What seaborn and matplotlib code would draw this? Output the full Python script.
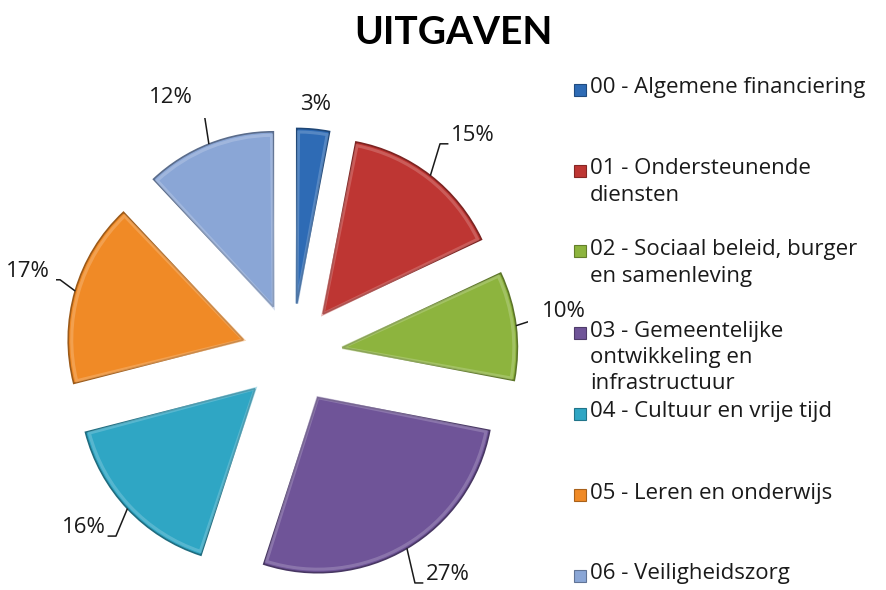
import numpy as np
import matplotlib
matplotlib.use("Agg")
import matplotlib.pyplot as plt
import seaborn as sns
from matplotlib.patches import Rectangle, Wedge
from matplotlib.colors import to_rgb

categories = [
    "00 - Algemene financiering",
    "01 - Ondersteunende\ndiensten",
    "02 - Sociaal beleid, burger\nen samenleving",
    "03 - Gemeentelijke\nontwikkeling en\ninfrastructuur",
    "04 - Cultuur en vrije tijd",
    "05 - Leren en onderwijs",
    "06 - Veiligheidszorg",
]
shares = [3, 15, 10, 27, 16, 17, 12]
colors = ["#2E6BB5", "#BE3633", "#8DB43E", "#6F5498", "#2FA6C4", "#F08A26", "#8AA6D6"]
title = "UITGAVEN"


def shade(c, f):
    r, g, b = to_rgb(c)
    return (r * f, g * f, b * f)


def tint(c, f):
    r, g, b = to_rgb(c)
    return (r + (1 - r) * f, g + (1 - g) * f, b + (1 - b) * f)


sns.set_theme(style="white")
plt.rcParams["font.family"] = ["Open Sans", "DejaVu Sans"]

W, H = 886, 590
fig = plt.figure(figsize=(W / 100, H / 100), dpi=100)

# pie centre and scale in pixels
cx, cy, scale = 292, 354, 175
lim = 1.35
ax = fig.add_axes([(cx - lim * scale) / W, (H - cy - lim * scale) / H,
                   2 * lim * scale / W, 2 * lim * scale / H])

explode = 0.29
wedges, _ = ax.pie(shares, colors=colors, startangle=90, counterclock=False,
                   explode=[explode] * len(shares), radius=1,
                   wedgeprops=dict(linewidth=1.2))
for w, c in zip(wedges, colors):
    w.set_edgecolor(shade(c, 0.65))
    # soft bevel rim just inside the edge
    ax.add_patch(Wedge(w.center, w.r - 0.02, w.theta1 + 0.6, w.theta2 - 0.6,
                       facecolor="none", edgecolor=tint(c, 0.35), lw=2.2, alpha=0.55))

ax.set_xlim(-lim, lim)
ax.set_ylim(-lim, lim)
ax.set_aspect("equal")
ax.axis("off")

# percentage labels with elbow leaders
rx, ry, gap = 1.38, 1.52, 0.06
for w, pct in zip(wedges, shares):
    deg = (w.theta1 + w.theta2) / 2
    c, s = np.cos(np.deg2rad(deg)), np.sin(np.deg2rad(deg))
    tip = ((1 + explode) * c, (1 + explode) * s)
    if pct < 5:
        ax.text(1.43 * c, 1.43 * s, f"{pct}%", ha="center", va="center",
                fontsize=16, color="#1a1a1a")
        continue
    ex, ey = rx * c, ry * s
    side = 1 if c > 0 else -1
    ax.plot([tip[0], ex, ex + side * gap * 0.8], [tip[1], ey, ey],
            color="#1a1a1a", lw=1.1, solid_capstyle="butt")
    ax.text(ex + side * gap, ey - 0.01, f"{pct}%", ha="left" if side > 0 else "right",
            va="bottom", fontsize=16, color="#1a1a1a")

fig.text(453 / W, 1 - 44 / H, title, ha="center", va="baseline",
         fontsize=28, fontweight="bold", color="black", family=["Lato", "DejaVu Sans"])

# legend, equally spaced rows like the original
for i, (lab, col) in enumerate(zip(categories, colors)):
    yc = 89.5 + 81 * i
    fig.add_artist(Rectangle((574 / W, 1 - (yc + 6) / H), 12 / W, 12 / H,
                             transform=fig.transFigure, facecolor=col,
                             edgecolor=shade(col, 0.7), lw=0.8))
    fig.text(590 / W, 1 - (yc - 12) / H, lab, ha="left", va="top",
             fontsize=16, color="#1a1a1a", linespacing=1.32)

fig.savefig("out.png", dpi=100)
